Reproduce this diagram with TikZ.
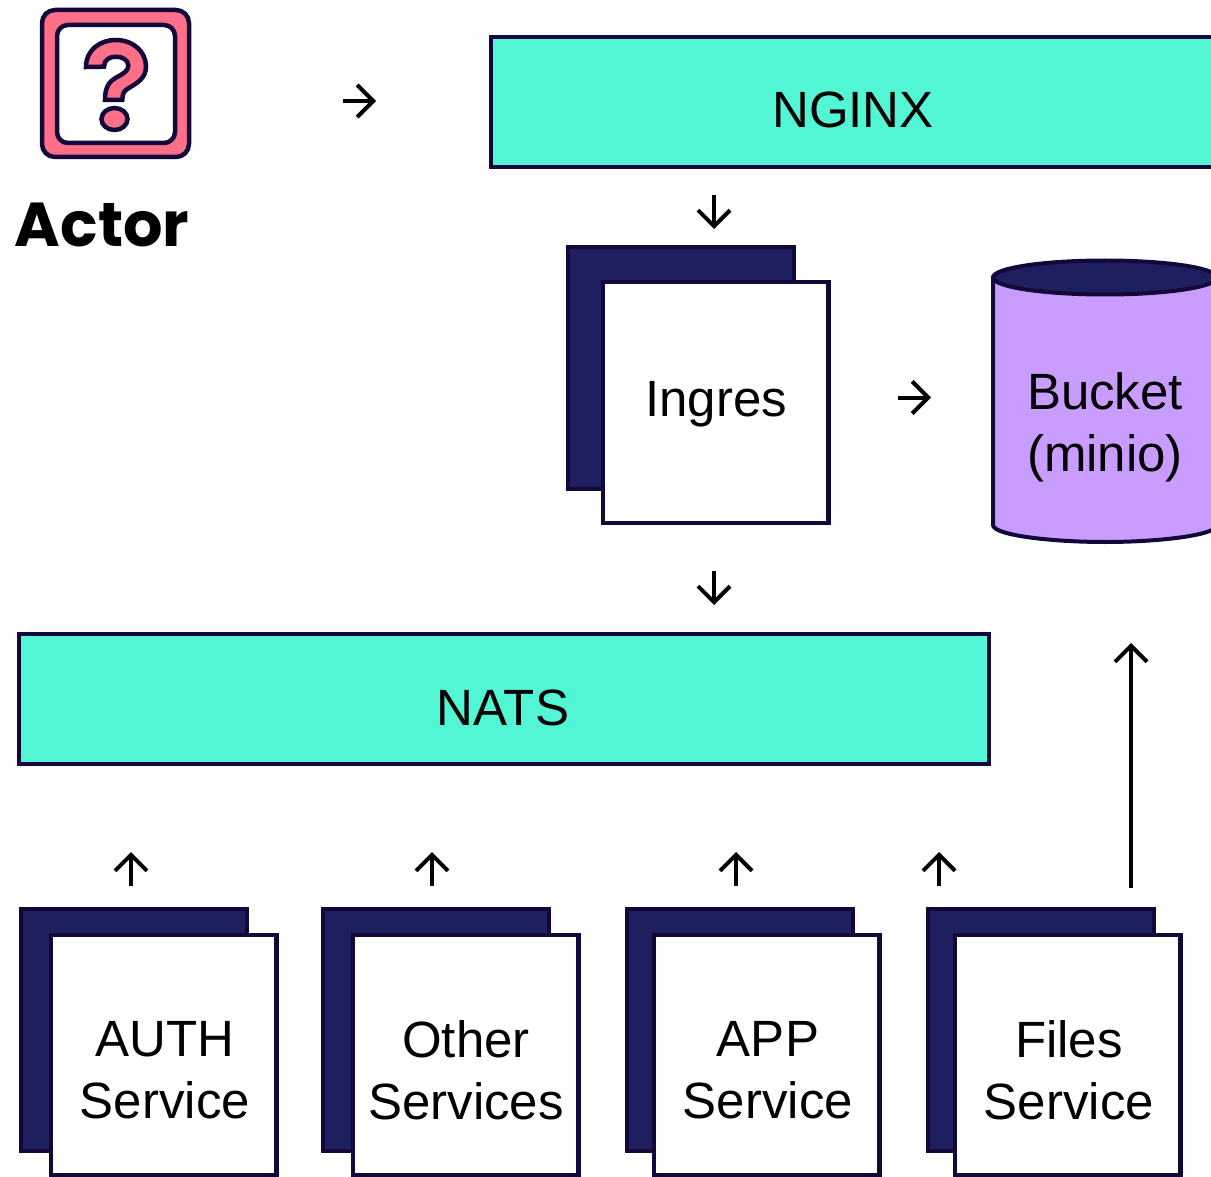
\documentclass[tikz,border=0pt]{standalone}
\usepackage{fontspec}
\setmainfont{Liberation Sans}
\newfontfamily\actorfont{Poppins}
\usetikzlibrary{arrows.meta,shapes.geometric}
\definecolor{inkc}{HTML}{12083A}
\definecolor{navyc}{HTML}{1E1F5F}
\definecolor{tealc}{HTML}{52F5D4}
\definecolor{pinkc}{HTML}{FF6F88}
\definecolor{purpc}{HTML}{C99CFF}
\tikzset{
  box/.style={draw=inkc,line width=4.2pt,inner sep=0pt,outer sep=0pt,anchor=north west},
  backbox/.style={box,fill=navyc,minimum width=226pt,minimum height=242pt},
  frontbox/.style={box,fill=white,minimum width=225.5pt,minimum height=240.5pt},
  busbox/.style={box,fill=tealc,minimum height=130pt},
  lbl/.style={inner sep=0pt,align=center,text=black,font=\fontsize{51}{62}\selectfont},
  flow/.style={draw=black,line width=4pt,-{Straight Barb[length=16pt,width=32pt,line width=4pt]}},
  icon/.style={draw=inkc,line width=4.5pt,line join=miter}
}
\begin{document}
\begin{tikzpicture}[x=1pt,y=-1pt]
\useasboundingbox (0,0) rectangle (1211,1177);
\clip (0,0) rectangle (1211,1177);
% Actor icon
\draw[icon,fill=pinkc,rounded corners=13pt] (42,10) rectangle (189,157);
\draw[icon,fill=white,rounded corners=11pt] (57,25) rectangle (175,143);
\draw[icon,fill=pinkc] (86,67) .. controls (86,50) and (100,40) .. (115.7,40) .. controls (133.3,40) and (146,51.7) .. (146,66.7)
  .. controls (146,78.3) and (136.7,83.3) .. (128.3,88.3) .. controls (124,90.7) and (122.3,94) .. (122.3,100)
  -- (105,100) .. controls (105,88.3) and (108.3,81.7) .. (116.7,77.3) .. controls (124,73.3) and (128.3,70.7) .. (128.3,65.7)
  .. controls (128.3,60) and (122.7,56.7) .. (115.7,56.7) .. controls (109.3,56.7) and (104,60) .. (104,66.7) -- cycle;
\draw[icon,fill=pinkc] (114.5,119) ellipse [x radius=13pt,y radius=11pt];
\node[inner sep=0pt,anchor=base,font=\actorfont\bfseries\fontsize{62}{62}\selectfont] (actor) at (102,247) {Actor};
% Top bar
\node[busbox,minimum width=725pt] (nginx) at (491,37) {};
\node[lbl,anchor=base] (nginxl) at (853,128) {NGINX};
% Ingres
\node[backbox] (ingresb) at (568,247) {};
\node[frontbox,minimum height=241pt] (ingres) at (603,282) {};
\node[lbl,anchor=base] (ingresl) at (716,416) {Ingres};
% Bucket
\path[draw=inkc,line width=4pt,fill=purpc] (993,278) -- (993,525)
  .. controls (993,535) and (1050,542) .. (1105,542) .. controls (1160,542) and (1217,535) .. (1217,525) -- (1217,278) -- cycle;
\node[draw=inkc,line width=4pt,fill=navyc,ellipse,inner sep=0pt,outer sep=0pt,minimum width=224pt,minimum height=34pt] (bucket) at (1105,277.5) {};
\node[lbl] (bucketl) at (1105,427) {Bucket\\(minio)};
% NATS
\node[busbox,minimum width=970pt] (nats) at (19,634) {};
\node[lbl,anchor=base] (natsl) at (503,725) {NATS};
% Services
\node[backbox] (authb) at (21,909) {};
\node[frontbox] (auth) at (51,935) {};
\node[lbl] (authl) at (165,1070) {AUTH\\Service};
\node[backbox] (otherb) at (323,909) {};
\node[frontbox] (other) at (353,935) {};
\node[lbl] (otherl) at (466,1070) {Other\\Services};
\node[backbox] (appb) at (627,909) {};
\node[frontbox] (app) at (654,935) {};
\node[lbl] (appl) at (768,1070) {APP\\Service};
\node[backbox] (filesb) at (928,909) {};
\node[frontbox] (files) at (955,935) {};
\node[lbl] (filesl) at (1069,1070) {Files\\Service};
% Connector ends
\coordinate (a1) at (343,101); \coordinate (a2) at (376,101);
\coordinate (b1) at (714,195); \coordinate (b2) at (714,229);
\coordinate (c1) at (898,397.5); \coordinate (c2) at (931,397.5);
\coordinate (d1) at (714,571); \coordinate (d2) at (714,605);
\coordinate (e1) at (131,886); \coordinate (e2) at (131,852);
\coordinate (f1) at (432,886); \coordinate (f2) at (432,852);
\coordinate (g1) at (736,886); \coordinate (g2) at (736,852);
\coordinate (h1) at (939,886); \coordinate (h2) at (939,852);
\coordinate (i1) at (1131,888); \coordinate (i2) at (1131,643);
\draw[flow] (a1) -- (a2);
\draw[flow] (b1) -- (b2);
\draw[flow] (c1) -- (c2);
\draw[flow] (d1) -- (d2);
\draw[flow] (e1) -- (e2);
\draw[flow] (f1) -- (f2);
\draw[flow] (g1) -- (g2);
\draw[flow] (h1) -- (h2);
\draw[flow] (i1) -- (i2);
\end{tikzpicture}
\end{document}
